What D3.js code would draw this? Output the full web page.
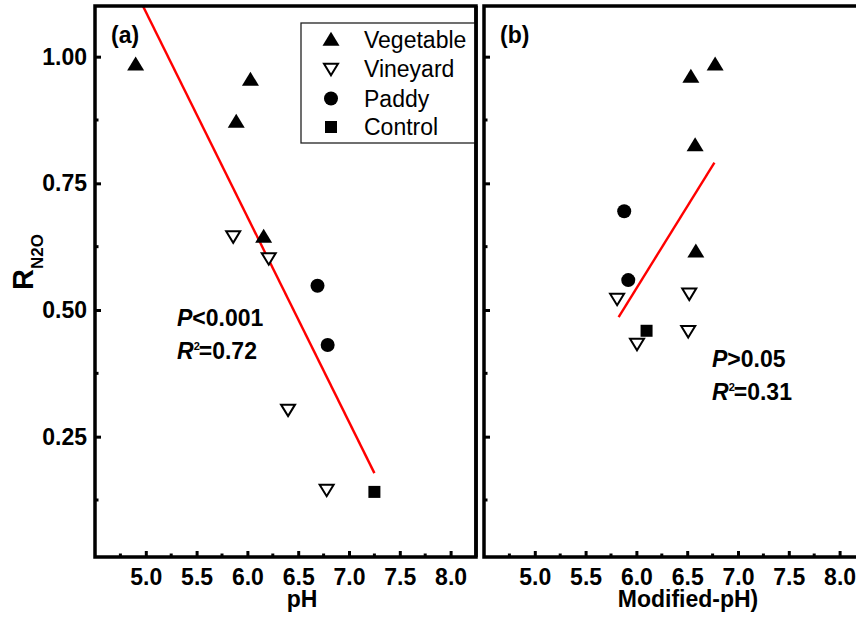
<!DOCTYPE html>
<html>
<head>
<meta charset="utf-8">
<script src="https://cdn.jsdelivr.net/npm/d3@7"></script>
<style>
  html, body { margin: 0; padding: 0; background: #fff; }
  svg { display: block; font-family: "Liberation Sans", Arial, sans-serif; }
</style>
</head>
<body>
<svg id="chart" width="856" height="621"></svg>
<script>
// ---------------- data ----------------
const categories = ["Vegetable", "Vineyard", "Paddy", "Control"];

// panel (a): pH
const vegPH_a = [4.90, 6.03, 5.89, 6.16];
const vegR_a  = [0.985, 0.955, 0.872, 0.645];
const vinPH_a = [5.86, 6.21, 6.40, 6.78];
const vinR_a  = [0.645, 0.602, 0.303, 0.145];
const padPH_a = [6.69, 6.79];
const padR_a  = [0.548, 0.431];
const ctlPH_a = [7.25];
const ctlR_a  = [0.141];
const fitPH_a = [4.90, 7.25];
const fitR_a  = [1.129, 0.178];
const statA = ["<0.001", "=0.72"];

// panel (b): Modified-pH
const vegPH_b = [6.775, 6.536, 6.578, 6.585];
const vegR_b  = [0.985, 0.961, 0.826, 0.616];
const vinPH_b = [5.81, 6.52, 6.006, 6.51];
const vinR_b  = [0.522, 0.532, 0.433, 0.458];
const padPH_b = [5.88, 5.92];
const padR_b  = [0.695, 0.559];
const ctlPH_b = [6.10];
const ctlR_b  = [0.459];
const fitPH_b = [5.825, 6.768];
const fitR_b  = [0.486, 0.791];
const statB = [">0.05", "=0.31"];

const xTicks = [5.0, 5.5, 6.0, 6.5, 7.0, 7.5, 8.0];
const xMinor = [4.75, 5.25, 5.75, 6.25, 6.75, 7.25, 7.75];
const yTicks = [0.25, 0.50, 0.75, 1.00];
const yMinor = [0.125, 0.375, 0.625, 0.875];
const xDomain = [4.5, 8.25];
const yDomain = [0.0125, 1.1];

// ---------------- drawing ----------------
const svg = d3.select("#chart");
const plotTop = 6, plotBottom = 557;
const FS = 23;

const y = d3.scaleLinear().domain(yDomain).range([plotBottom, plotTop]);

const symTri = d3.symbol().type({
  draw(ctx, size) {
    const w = 8.5, h = 14;
    ctx.moveTo(0, -h * 0.55);
    ctx.lineTo(w, h * 0.45);
    ctx.lineTo(-w, h * 0.45);
    ctx.closePath();
  }
})();
const symTriDown = d3.symbol().type({
  draw(ctx, size) {
    const w = 7, h = 11.5;
    ctx.moveTo(0, h * 0.55);
    ctx.lineTo(w, -h * 0.45);
    ctx.lineTo(-w, -h * 0.45);
    ctx.closePath();
  }
})();

function drawPanel(opts) {
  const { left, right, label, xTitle, titleX, showYLabels, series, fitX, fitY, stat, statX, statY, id } = opts;
  const x = d3.scaleLinear().domain(xDomain).range([left, right]);
  const g = svg.append("g");

  g.append("clipPath").attr("id", "clip" + id)
    .append("rect").attr("x", left).attr("y", plotTop).attr("width", right - left).attr("height", plotBottom - plotTop);

  // fit line
  g.append("path")
    .attr("clip-path", `url(#clip${id})`)
    .datum(fitX.map((v, i) => [v, fitY[i]]))
    .attr("d", d3.line().x(d => x(d[0])).y(d => y(d[1])))
    .attr("stroke", "#ff0000").attr("stroke-width", 2.4).attr("fill", "none");

  // points
  const [veg, vin, pad, ctl] = series;
  g.append("g").selectAll("path").data(veg[0].map((v, i) => [v, veg[1][i]])).join("path")
    .attr("d", symTri).attr("transform", d => `translate(${x(d[0])},${y(d[1])})`).attr("fill", "#000");
  g.append("g").selectAll("path").data(vin[0].map((v, i) => [v, vin[1][i]])).join("path")
    .attr("d", symTriDown).attr("transform", d => `translate(${x(d[0])},${y(d[1])})`)
    .attr("fill", "#fff").attr("stroke", "#000").attr("stroke-width", 2);
  g.append("g").selectAll("circle").data(pad[0].map((v, i) => [v, pad[1][i]])).join("circle")
    .attr("cx", d => x(d[0])).attr("cy", d => y(d[1])).attr("r", 7).attr("fill", "#000");
  g.append("g").selectAll("rect").data(ctl[0].map((v, i) => [v, ctl[1][i]])).join("rect")
    .attr("x", d => x(d[0]) - 6).attr("y", d => y(d[1]) - 6).attr("width", 12).attr("height", 12).attr("fill", "#000");

  // axes
  const xAxis = d3.axisBottom(x).tickValues(xTicks).tickSize(-6).tickPadding(12).tickFormat(d3.format(".1f"));
  const gx = g.append("g").attr("transform", `translate(0,${plotBottom})`).call(xAxis);
  gx.select(".domain").remove();
  gx.selectAll(".tick line").attr("stroke", "#000").attr("stroke-width", 3);
  gx.selectAll(".tick text").attr("font-size", FS).attr("font-weight", "bold").attr("fill", "#000")
    .attr("font-family", "Liberation Sans, Arial, sans-serif").attr("dy", "0.7em");
  g.append("g").selectAll("line").data(xMinor).join("line")
    .attr("x1", d => x(d)).attr("x2", d => x(d)).attr("y1", plotBottom).attr("y2", plotBottom - 3.5)
    .attr("stroke", "#000").attr("stroke-width", 3);

  const yAxis = d3.axisLeft(y).tickValues(yTicks).tickSize(-6).tickPadding(8).tickFormat(d3.format(".2f"));
  const gy = g.append("g").attr("transform", `translate(${left},0)`).call(yAxis);
  gy.select(".domain").remove();
  gy.selectAll(".tick line").attr("stroke", "#000").attr("stroke-width", 3);
  gy.selectAll(".tick text").attr("font-size", FS).attr("font-weight", "bold").attr("fill", "#000")
    .attr("font-family", "Liberation Sans, Arial, sans-serif").style("display", showYLabels ? null : "none");
  g.append("g").selectAll("line").data(yMinor).join("line")
    .attr("x1", left).attr("x2", left + 3.5).attr("y1", d => y(d)).attr("y2", d => y(d))
    .attr("stroke", "#000").attr("stroke-width", 3);

  // frame
  g.append("rect").attr("x", left).attr("y", plotTop).attr("width", right - left).attr("height", plotBottom - plotTop)
    .attr("fill", "none").attr("stroke", "#000").attr("stroke-width", 3.5);

  // panel label
  g.append("text").attr("x", left + 16).attr("y", 43).text(label)
    .attr("font-size", FS).attr("font-weight", "bold");

  // axis title
  g.append("text").attr("x", titleX).attr("y", 607).attr("text-anchor", "middle")
    .attr("font-size", FS).attr("font-weight", "bold").text(xTitle);

  // stats
  const t1 = g.append("text").attr("x", statX).attr("y", statY).attr("font-size", FS).attr("font-weight", "bold");
  t1.append("tspan").attr("font-style", "italic").text("P");
  t1.append("tspan").text(stat[0]);
  const t2 = g.append("text").attr("x", statX).attr("y", statY + 33).attr("font-size", FS).attr("font-weight", "bold");
  t2.append("tspan").attr("font-style", "italic").text("R");
  t2.append("tspan").attr("font-size", 11).attr("dy", -9).text("2");
  t2.append("tspan").attr("dx", -1).attr("dy", 9).text(stat[1]);
  return x;
}

drawPanel({
  id: "a", left: 95, right: 476, label: "(a)", xTitle: "pH", titleX: 302, showYLabels: true,
  series: [[vegPH_a, vegR_a], [vinPH_a, vinR_a], [padPH_a, padR_a], [ctlPH_a, ctlR_a]],
  fitX: fitPH_a, fitY: fitR_a, stat: statA, statX: 177, statY: 326
});
drawPanel({
  id: "b", left: 484, right: 865, label: "(b)", xTitle: "Modified-pH)", titleX: 688, showYLabels: false,
  series: [[vegPH_b, vegR_b], [vinPH_b, vinR_b], [padPH_b, padR_b], [ctlPH_b, ctlR_b]],
  fitX: fitPH_b, fitY: fitR_b, stat: statB, statX: 712, statY: 367
});

// legend (panel a)
const lg = svg.append("g");
lg.append("rect").attr("x", 301).attr("y", 23).attr("width", 174).attr("height", 120)
  .attr("fill", "#fff").attr("stroke", "#222").attr("stroke-width", 1.3);
const legY = [39.5, 69, 98.5, 127];
categories.forEach((c, i) => {
  const cy = legY[i];
  if (i === 0) lg.append("path").attr("d", symTri).attr("transform", `translate(331,${cy})`).attr("fill", "#000");
  if (i === 1) lg.append("path").attr("d", symTriDown).attr("transform", `translate(331,${cy})`)
    .attr("fill", "#fff").attr("stroke", "#000").attr("stroke-width", 2);
  if (i === 2) lg.append("circle").attr("cx", 331).attr("cy", cy).attr("r", 7).attr("fill", "#000");
  if (i === 3) lg.append("rect").attr("x", 325).attr("y", cy - 6).attr("width", 12).attr("height", 12).attr("fill", "#000");
  lg.append("text").attr("x", 364).attr("y", cy + 8).attr("font-size", FS).text(c);
});
// redraw panel (a) right border over legend edge
svg.append("line").attr("x1", 476).attr("x2", 476).attr("y1", plotTop).attr("y2", plotBottom)
  .attr("stroke", "#000").attr("stroke-width", 3.5);

// y-axis title
const yt = svg.append("text").attr("transform", "translate(33,290) rotate(-90)")
  .attr("font-size", 29).attr("font-weight", "bold");
yt.append("tspan").text("R");
yt.append("tspan").attr("font-size", 17).attr("dy", 10).text("N2O");
</script>
</body>
</html>
